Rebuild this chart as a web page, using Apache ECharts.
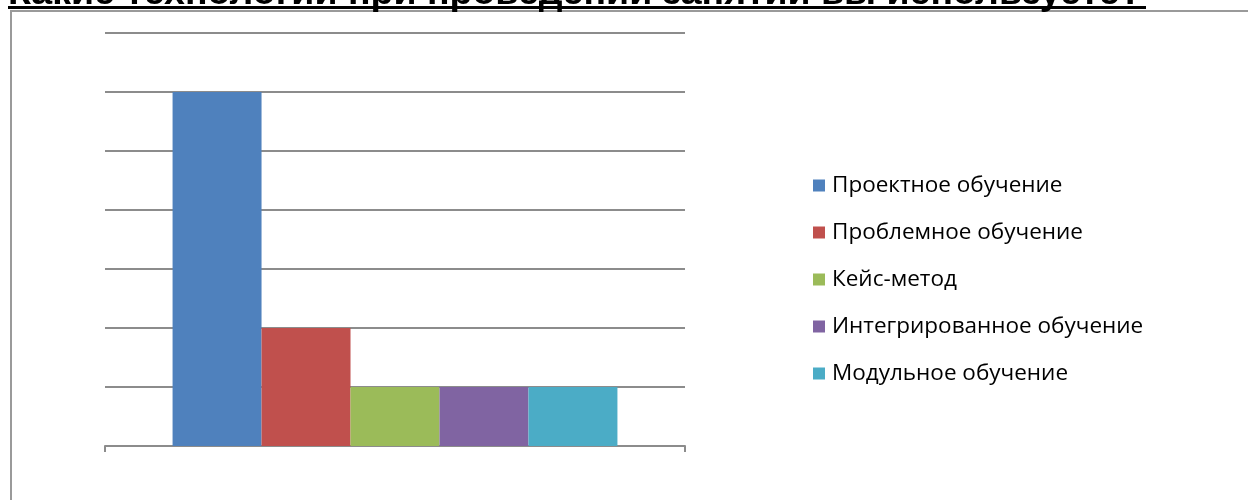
<!DOCTYPE html>
<html><head><meta charset="utf-8">
<script src="https://cdn.jsdelivr.net/npm/echarts@6/dist/echarts.min.js"></script>
<style>html,body{margin:0;padding:0;background:#fff}#c{width:1248px;height:500px}</style>
</head><body><div id="c"></div>
<script>
const title = 'Какие технологии при проведении занятий вы используете?';
const categories = [''];
const seriesNames = ['Проектное обучение','Проблемное обучение','Кейс-метод','Интегрированное обучение','Модульное обучение'];
const seriesValues = [6, 2, 1, 1, 1];
const colors = ['#4F81BD','#C0504D','#9BBB59','#8064A2','#4BACC6'];

const chart = echarts.init(document.getElementById('c'), null, {renderer:'canvas'});
chart.setOption({
  animation:false,
  color: colors,
  grid:{left:105, right:563, top:33, bottom:54},
  legend:{
    orient:'vertical', left:808, top:169, itemGap:24, itemWidth:12, itemHeight:12,
    icon:'rect',
    textStyle:{fontFamily:'Open Sans', fontSize:22.5, color:'#000', padding:[0,0,0,2]},
    data: seriesNames
  },
  xAxis:{type:'category', data:categories,
    axisLine:{lineStyle:{color:'#8c8c8c', width:2}},
    axisTick:{show:true, length:6, lineStyle:{color:'#8c8c8c', width:2}},
    axisLabel:{show:false}},
  yAxis:{type:'value', min:0, max:7, interval:1,
    axisLine:{show:false}, axisTick:{show:false}, axisLabel:{show:false},
    splitLine:{lineStyle:{color:'#8c8c8c', width:2}}},
  series: seriesNames.map((n,i)=>({
    name:n, type:'bar', data:[seriesValues[i]], barGap:'0%', barCategoryGap:'23.3%', z:3
  })),
  graphic:[
    {type:'rect', shape:{x:10, y:10, width:1238, height:2}, style:{fill:'#9a9a9a'}},
    {type:'rect', shape:{x:10, y:10, width:2, height:490}, style:{fill:'#9a9a9a'}},
    {type:'text', x:8, y:-25, style:{text:title, font:'bold 37.5px "Liberation Sans"', fill:'#000'}},
    {type:'rect', shape:{x:8, y:6, width:1138, height:3}, style:{fill:'#000'}}
  ]
});
</script></body></html>
